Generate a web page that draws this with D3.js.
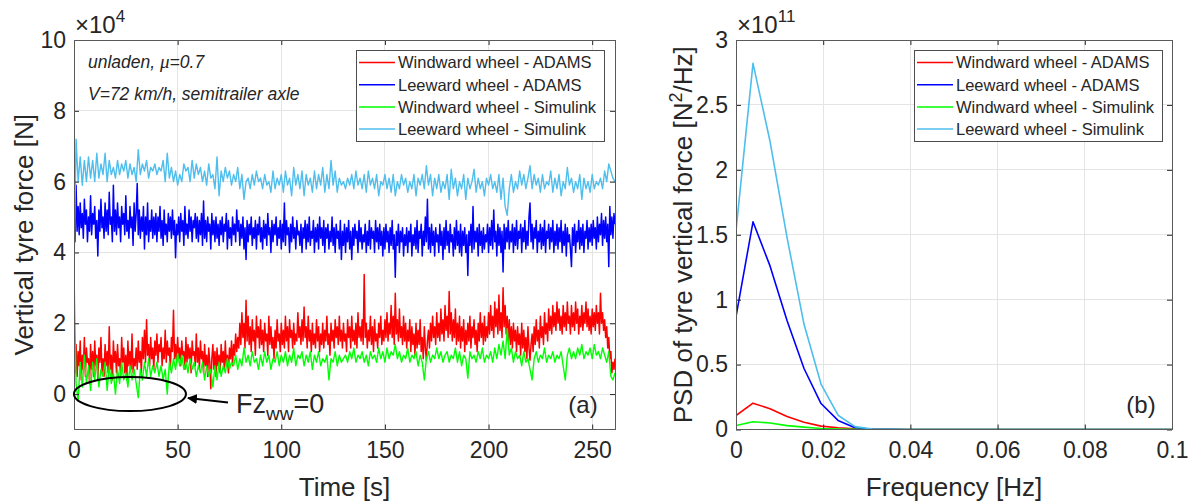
<!DOCTYPE html>
<html><head><meta charset="utf-8">
<script src="https://cdn.jsdelivr.net/npm/d3@7"></script>
<style>
body{margin:0;background:#fff}
text{font-family:"Liberation Sans",Arial,Helvetica,sans-serif;fill:#262626}
</style>
</head><body>
<svg id="c" width="1196" height="502" xmlns="http://www.w3.org/2000/svg"></svg>
<script>
// ---------------- DATA ----------------
const seriesNames = ["Windward wheel - ADAMS","Leeward wheel - ADAMS","Windward wheel - Simulink","Leeward wheel - Simulink"];
const seriesColors = ["#ff0000","#0000ff","#00ff00","#4dbeee"];

// time-series sampling (s)
const fastStep = 0.5;   // ADAMS traces
const slowStep = 1;     // Simulink traces

// Vertical tyre force, x10^4 N
const windwardAdams = [
1.9,0.6,1.4,0.5,1.2,0.8,1.5,0.4,1.1,0.7,1.6,0.5,1.3,0.9,1.0,0.3,1.4,0.7,1.2,0.5,
1.5,0.8,1.1,0.4,1.3,0.9,1.6,0.6,1.0,0.5,1.4,0.8,1.2,0.6,1.9,0.7,1.1,0.4,1.5,0.9,
1.2,0.6,1.4,0.8,1.0,0.5,1.6,0.9,1.3,0.6,1.1,0.4,1.5,0.8,1.2,0.7,1.7,0.6,1.0,0.8,
1.3,0.7,1.5,0.9,1.2,0.6,1.6,1.0,1.8,0.9,2.1,1.1,1.4,0.8,1.6,1.0,1.3,0.7,1.5,1.1,
1.7,0.9,1.4,1.2,1.6,0.8,1.3,1.0,1.8,0.9,1.5,1.1,1.3,0.7,1.6,1.2,2.37,1.0,1.4,0.9,
1.6,1.0,1.3,0.8,1.5,1.1,1.2,0.7,1.6,0.9,1.4,1.0,1.3,0.6,1.5,1.1,1.2,0.8,1.7,0.9,
1.3,0.7,1.5,1.0,1.2,0.6,1.4,0.8,1.1,0.5,1.3,0.9,0.15,1.0,1.4,0.7,1.2,0.5,1.3,0.8,
1.1,0.6,1.4,0.9,1.2,0.7,1.5,0.8,1.1,0.6,1.3,1.0,1.5,0.8,1.4,1.1,1.7,1.2,1.6,1.3,
2.0,1.4,2.3,1.6,2.0,1.3,2.65,1.5,2.2,1.4,1.9,1.2,2.1,1.5,1.8,1.1,2.2,1.6,1.9,1.3,
2.1,1.4,1.8,1.2,2.0,1.5,1.7,1.1,2.2,1.4,1.9,1.3,1.6,1.0,1.8,1.3,2.1,1.5,1.7,1.2,
2.0,1.4,1.8,1.3,2.2,1.5,1.9,1.2,2.1,1.6,1.8,1.3,2.0,1.4,1.7,1.5,2.3,1.6,1.9,1.4,
2.1,1.5,2.46,1.6,1.9,1.3,2.2,1.5,1.8,1.2,2.0,1.4,1.7,1.3,2.1,1.5,1.9,1.2,1.7,1.4,
2.0,1.3,1.8,1.5,2.2,1.4,1.7,1.1,2.0,1.5,1.8,1.3,2.1,1.6,1.9,1.4,2.2,1.5,1.8,1.3,
2.0,1.5,1.7,1.2,2.1,1.6,1.9,1.3,2.2,1.5,1.8,1.4,2.0,1.3,2.3,1.6,1.9,1.5,2.1,1.4,
3.38,1.6,2.0,1.3,1.8,1.5,2.2,1.4,1.9,1.2,2.1,1.5,1.7,1.3,2.0,1.6,2.2,1.4,1.8,1.5,
2.1,1.6,2.3,1.5,2.0,1.7,2.5,1.6,2.2,1.4,2.85,1.7,2.1,1.5,2.4,1.6,1.9,1.4,2.2,1.5,
2.0,1.3,1.8,1.5,2.1,1.2,1.9,1.4,1.7,1.1,2.0,1.3,1.8,1.4,2.1,1.2,1.6,1.0,1.9,1.3,
0.96,1.5,1.8,1.3,2.0,1.5,2.2,1.6,1.9,1.4,2.3,1.6,2.0,1.5,2.4,1.7,2.1,1.5,2.5,1.8,
2.2,1.6,2.9,1.7,2.3,1.5,2.1,1.6,2.4,1.4,2.0,1.5,2.2,1.3,1.9,1.5,2.1,1.2,1.8,1.4,
2.0,1.5,2.2,1.3,1.9,1.6,2.1,1.4,1.8,1.2,2.0,1.5,2.3,1.6,2.0,1.4,2.2,1.5,1.9,1.6,
2.3,1.7,2.5,1.8,2.2,1.6,2.6,1.9,2.4,1.7,2.8,1.8,2.3,1.6,3.0,1.9,2.5,1.7,2.2,1.5,
2.1,1.4,1.9,1.3,2.0,1.5,1.8,1.2,1.9,1.4,1.7,1.1,2.0,1.3,1.8,1.2,1.6,1.0,1.9,1.3,
0.96,1.4,1.7,1.2,1.9,1.4,2.1,1.5,1.8,1.3,2.2,1.6,1.9,1.4,2.3,1.7,2.0,1.5,2.4,1.8,
2.2,1.7,2.5,1.9,2.3,1.8,2.6,2.0,2.4,1.8,2.2,1.7,2.5,1.9,2.3,1.8,2.6,2.0,2.2,1.7,
2.5,1.9,2.3,1.8,2.6,2.0,2.4,1.7,2.2,1.9,2.5,1.8,2.3,2.0,2.6,1.9,2.4,1.8,2.2,1.7,
2.4,1.9,2.3,1.8,2.5,2.0,2.3,1.7,2.85,2.0,2.3,1.8,2.1,1.6,1.9,1.3,1.6,1.0,1.2,0.6,
0.9,0.7,1.0];

const leewardAdams = [
6.0,4.3,5.9,4.6,5.3,4.5,5.4,4.7,5.1,4.4,5.5,4.8,5.2,4.3,5.0,4.6,5.6,4.5,5.1,4.8,
5.3,4.4,4.9,3.9,5.2,4.6,5.5,4.7,5.0,4.4,5.4,4.6,5.2,4.5,5.7,4.8,5.0,4.3,5.9,4.6,
5.2,4.5,5.4,4.7,5.0,4.3,5.3,4.8,5.1,4.5,5.6,4.6,4.9,4.4,5.3,4.7,5.0,4.2,5.4,4.6,
5.1,5.95,4.5,5.2,4.4,5.0,4.6,5.3,4.1,5.0,4.5,5.4,4.3,4.9,4.6,5.2,4.4,5.0,4.5,5.1,
4.3,5.0,4.6,5.3,4.4,4.9,4.2,5.2,4.5,4.8,4.3,5.1,4.6,5.0,4.4,5.2,4.5,4.9,3.85,4.8,
4.5,5.0,4.3,5.1,4.6,4.9,4.2,5.3,4.5,4.8,4.4,5.2,4.6,5.0,4.3,4.9,4.7,5.1,4.4,5.0,
4.3,4.9,4.5,5.1,4.2,5.45,4.4,4.9,4.3,5.0,4.6,4.8,4.1,5.1,4.5,4.9,4.3,5.0,4.4,4.8,
4.2,4.9,4.5,5.0,4.3,4.8,4.6,5.1,4.1,4.9,4.4,4.7,4.2,5.0,4.5,4.8,4.3,5.2,4.6,4.9,
4.2,4.8,4.4,5.0,4.1,4.7,3.8,4.9,4.3,4.8,4.5,5.0,4.2,4.7,4.4,4.9,4.1,4.8,4.5,5.0,
4.3,4.7,4.1,4.9,4.4,4.8,4.2,5.1,4.5,4.7,4.0,4.9,4.3,4.8,4.5,5.0,4.2,4.7,4.4,4.9,
4.1,4.8,4.3,5.4,4.2,4.9,4.5,4.7,4.0,4.8,4.3,5.0,4.4,4.7,4.1,4.9,4.5,4.6,4.2,4.8,
4.0,4.7,4.4,4.9,4.1,4.8,4.3,5.0,4.2,4.6,4.4,4.9,4.0,4.7,4.3,4.8,4.1,5.0,4.4,4.7,
4.2,4.9,4.0,4.7,4.4,4.8,4.1,4.6,4.3,5.0,4.2,4.7,4.0,4.8,4.4,4.6,4.1,4.9,3.8,4.6,
4.2,4.8,4.0,4.7,4.3,4.9,4.1,4.6,3.8,4.7,4.2,4.8,4.4,4.6,4.0,4.9,4.3,4.7,4.1,4.5,
4.3,4.8,4.0,4.6,4.2,4.9,4.1,4.7,4.4,4.6,4.0,4.9,4.3,4.7,4.1,4.8,4.2,4.6,3.9,4.7,
4.1,4.8,4.3,4.6,4.0,4.7,4.2,4.9,4.1,4.5,3.3,4.6,4.2,4.8,4.0,4.6,4.3,4.7,3.9,4.5,
4.2,4.7,4.0,4.6,4.3,4.8,3.9,4.5,4.2,4.7,4.1,4.9,4.0,4.6,4.4,4.8,3.9,4.6,4.2,5.0,
4.3,5.5,4.1,4.7,4.0,4.8,4.2,4.6,3.9,4.7,4.3,4.5,4.0,4.8,4.2,4.6,3.8,4.7,4.1,4.9,
4.2,4.6,4.0,4.8,4.3,4.5,3.9,4.7,4.1,4.9,4.2,4.6,4.0,4.8,3.9,4.6,4.2,4.7,4.0,4.5,
3.35,4.6,4.2,4.8,4.0,5.3,4.1,4.6,4.3,4.7,3.9,4.8,4.2,4.6,4.0,4.7,4.1,4.5,4.3,4.8,
4.0,4.7,4.2,4.9,4.1,5.2,4.3,4.6,3.9,4.8,4.2,4.7,4.0,4.6,3.45,4.8,4.1,4.7,4.3,4.9,
4.1,4.6,4.3,4.8,4.0,4.7,4.2,4.9,4.1,4.6,4.4,4.8,4.0,4.7,4.3,4.9,4.1,4.6,4.2,5.0,
5.4,4.3,4.8,4.1,4.7,4.4,4.9,4.0,4.6,4.3,4.8,4.1,4.7,4.2,4.9,4.0,4.6,4.4,4.8,4.1,
4.7,4.3,4.9,4.0,4.6,4.2,4.8,4.1,4.7,4.3,4.9,4.0,4.6,4.2,4.8,3.9,4.7,4.3,4.5,4.1,
3.6,4.7,4.2,4.8,4.0,4.6,4.3,4.9,4.1,4.7,4.2,4.8,4.0,4.6,4.4,4.9,4.1,4.7,4.3,4.8,
4.2,4.9,4.4,4.7,4.1,5.0,4.3,4.8,4.5,5.1,4.2,4.9,4.4,5.0,4.3,4.8,3.6,5.3,4.5,5.0,
4.4,5.1,4.8];

const windwardSimulink = [3.4,
0.3,-0.2,0.9,0.2,1.1,0.3,0.8,0.1,0.9,0.4,
1.0,0.2,0.7,0.5,0.9,0.1,0.8,0.3,0.6,0.0,
0.7,0.3,0.9,0.4,0.6,0.2,0.8,0.4,0.7,0.3,
-0.1,0.7,0.4,0.9,0.5,1.0,0.5,0.8,0.6,0.9,
0.5,0.8,0.4,0.7,0.0,0.9,0.6,1.0,0.7,1.15,
0.8,1.1,0.7,0.9,0.6,1.0,0.7,0.9,0.5,0.8,
0.6,0.9,0.4,0.8,0.5,0.7,0.2,0.8,0.4,0.9,
0.5,0.8,0.6,1.0,0.7,0.9,0.8,1.1,0.7,1.0,
0.8,1.3,0.9,1.1,0.8,1.2,0.9,1.0,0.7,1.1,
0.8,1.2,0.9,1.1,0.7,1.0,0.9,1.2,0.8,1.1,
0.9,1.2,0.8,1.1,0.9,1.3,0.8,1.1,1.0,1.2,
0.8,1.1,0.9,1.2,0.7,1.1,0.9,1.2,0.8,1.0,
0.9,1.1,0.4,1.0,0.9,1.2,0.8,1.1,0.9,1.0,
1.1,0.9,1.2,1.0,1.3,0.9,1.1,1.0,1.2,0.9,
1.1,0.8,1.2,1.0,1.1,0.9,1.3,1.0,1.2,0.9,
1.3,1.0,1.2,1.1,1.4,1.0,1.2,0.9,1.1,1.0,
1.3,0.9,1.1,1.0,1.2,0.8,1.1,0.9,0.4,1.0,
1.2,0.9,1.1,1.0,1.3,1.0,1.2,0.9,1.1,1.2,
0.9,1.1,1.0,1.3,0.9,1.2,0.8,1.1,1.0,0.45,
1.2,1.0,1.1,0.9,1.2,1.0,1.3,0.9,1.1,1.0,
1.2,0.9,1.3,1.0,1.4,1.1,1.5,1.0,1.85,1.1,
1.3,0.9,1.2,1.0,1.1,0.8,1.2,0.9,1.0,0.7,
0.4,1.0,1.2,0.9,1.1,1.0,1.3,0.9,1.1,1.0,
1.2,0.9,1.1,1.0,1.2,0.8,0.4,1.1,1.3,1.0,
1.2,1.0,1.3,1.1,1.4,1.0,1.2,1.1,1.3,1.0,
1.4,1.1,1.2,1.0,1.3,1.1,0.9,1.2,0.5,0.4,0.6];

const leewardSimulink = [3.4,
7.2,6.0,6.7,5.9,6.6,6.0,6.7,6.1,6.6,6.0,
6.8,6.1,6.5,6.2,6.8,6.0,6.6,6.2,6.4,6.1,
6.6,6.2,6.5,6.3,6.6,6.1,6.5,6.2,6.4,6.0,
6.9,6.2,6.5,6.3,6.6,6.1,6.4,6.3,6.5,6.2,
6.4,6.3,6.6,6.0,6.8,6.1,6.4,6.0,6.3,5.9,
6.2,6.0,6.5,6.3,6.4,6.0,6.6,6.1,6.5,6.2,
6.4,6.0,6.3,5.9,6.5,6.1,6.2,5.8,6.7,5.6,
6.3,6.0,6.4,6.1,6.3,5.9,6.2,6.0,6.4,5.8,
6.2,5.5,6.0,6.1,5.8,6.2,5.9,6.3,6.0,6.1,
5.8,6.2,5.9,6.0,5.7,6.3,5.8,6.1,5.9,6.2,
5.7,6.3,5.9,6.1,5.6,6.4,5.9,6.2,5.8,6.3,
5.6,6.2,5.9,6.1,5.7,6.3,5.8,6.2,5.9,6.4,
5.7,6.2,5.8,6.6,5.9,6.3,5.7,6.1,5.9,6.0,
5.8,6.1,5.9,6.2,5.8,6.3,5.9,6.1,5.8,6.2,
5.7,6.3,5.9,6.1,5.8,6.2,5.6,6.0,5.9,6.2,
5.8,6.1,5.7,6.2,5.6,6.0,5.8,6.2,5.9,6.1,
5.7,6.0,5.8,6.2,5.6,6.1,5.9,6.2,5.8,6.45,
5.9,6.2,5.6,6.1,5.8,6.2,5.7,6.0,5.8,6.2,
5.5,6.35,5.8,6.1,5.6,6.0,5.8,6.2,5.5,6.1,
5.8,6.0,6.35,5.7,6.1,5.8,6.0,5.6,6.1,5.9,
6.2,5.8,6.0,5.7,6.2,5.5,6.1,5.3,5.05,5.8,
6.2,5.7,6.0,5.8,6.3,5.9,6.2,5.8,6.1,6.45,
5.8,6.2,5.9,6.1,5.7,6.2,5.8,6.0,5.9,6.3,
5.7,6.1,5.8,6.2,5.6,6.0,5.8,6.4,5.9,6.1,
5.7,6.0,5.8,6.2,5.5,6.1,5.8,6.0,5.7,6.2,
5.8,6.0,5.9,6.1,5.8,6.3,6.0,6.5,6.3,6.1,6.0];

// PSD, x10^11 N^2/Hz
const psdFreq = [0,0.0039,0.0078,0.0117,0.0156,0.0195,0.0234,0.0273,0.0313,0.0352,0.0391,0.0430,0.0469,0.0508,0.0547,0.0586,0.0625,0.0664,0.0703,0.0742,0.0781,0.0820,0.0859,0.0898,0.0938,0.0977,0.1016];
const psdWindwardAdams   = [0.108,0.203,0.160,0.100,0.056,0.026,0.013,0.005,0.002,0.001,0,0,0,0,0,0,0,0,0,0,0,0,0,0,0,0,0];
const psdLeewardAdams    = [0.87,1.60,1.26,0.84,0.47,0.20,0.07,0.013,0.002,0.001,0,0,0,0,0,0,0,0,0,0,0,0,0,0,0,0,0];
const psdWindwardSimulink= [0.031,0.060,0.050,0.030,0.018,0.008,0.004,0.001,0,0,0,0,0,0,0,0,0,0,0,0,0,0,0,0,0,0,0];
const psdLeewardSimulink = [1.53,2.82,2.22,1.48,0.81,0.35,0.11,0.022,0.004,0.001,0,0,0,0,0,0,0,0,0,0,0,0,0,0,0,0,0];

const timeTicks = [0,50,100,150,200,250];
const forceTicks = [0,2,4,6,8,10];
const freqTicks = [0,0.02,0.04,0.06,0.08,0.1];
const freqTickLabels = ["0","0.02","0.04","0.06","0.08","0.1"];
const psdTicks = [0,0.5,1,1.5,2,2.5,3];
const psdTickLabels = ["0","0.5","1","1.5","2","2.5","3"];

// ---------------- DRAW ----------------
const svg = d3.select("#c");
const defs = svg.append("defs");

function makePanel(cfg) {
  const x = d3.scaleLinear().domain(cfg.xDomain).range([cfg.left, cfg.right]);
  const y = d3.scaleLinear().domain(cfg.yDomain).range([cfg.bottom, cfg.top]);
  const g = svg.append("g");
  const gridColor = "#e4e4e4";
  g.append("g").selectAll("line").data(cfg.xTicks.filter(v => v > cfg.xDomain[0] && v < cfg.xDomain[1])).join("line")
    .attr("x1", d => x(d)).attr("x2", d => x(d)).attr("y1", cfg.top).attr("y2", cfg.bottom)
    .attr("stroke", gridColor).attr("stroke-width", 1).attr("shape-rendering","crispEdges");
  g.append("g").selectAll("line").data(cfg.yTicks.filter(v => v > cfg.yDomain[0] && v < cfg.yDomain[1])).join("line")
    .attr("y1", d => y(d)).attr("y2", d => y(d)).attr("x1", cfg.left).attr("x2", cfg.right)
    .attr("stroke", gridColor).attr("stroke-width", 1).attr("shape-rendering","crispEdges");

  defs.append("clipPath").attr("id", cfg.id).append("rect")
    .attr("x", cfg.left).attr("y", cfg.top).attr("width", cfg.right - cfg.left).attr("height", cfg.bottom - cfg.top);
  const plot = g.append("g").attr("clip-path", `url(#${cfg.id})`);

  const tickStyle = sel => {
    sel.select(".domain").remove();
    sel.selectAll(".tick line").attr("stroke", "#262626");
    sel.selectAll(".tick text").style("font-size", "23px").attr("fill", "#262626");
  };
  const ax = d3.axisBottom(x).tickValues(cfg.xTicks).tickSize(-5).tickPadding(12)
    .tickFormat((d, i) => cfg.xLabels[i]);
  g.append("g").attr("transform", `translate(0,${cfg.bottom})`).call(ax).call(tickStyle);
  const ay = d3.axisLeft(y).tickValues(cfg.yTicks).tickSize(-5).tickPadding(8)
    .tickFormat((d, i) => cfg.yLabels[i]);
  g.append("g").attr("transform", `translate(${cfg.left},0)`).call(ay).call(tickStyle);
  g.append("g").attr("transform", `translate(0,${cfg.top})`)
    .call(d3.axisTop(x).tickValues(cfg.xTicks).tickSize(-5).tickFormat("")).call(tickStyle);
  g.append("g").attr("transform", `translate(${cfg.right},0)`)
    .call(d3.axisRight(y).tickValues(cfg.yTicks).tickSize(-5).tickFormat("")).call(tickStyle);

  g.append("rect").attr("x", cfg.left).attr("y", cfg.top)
    .attr("width", cfg.right - cfg.left).attr("height", cfg.bottom - cfg.top)
    .attr("fill", "none").attr("stroke", "#5a5a5a").attr("stroke-width", 1).attr("shape-rendering","crispEdges");

  // exponent label
  const ex = g.append("text").attr("x", cfg.left + 1).attr("y", 33).style("font-size", "24px");
  ex.append("tspan").text("\u00d710");
  ex.append("tspan").attr("dy", -11).style("font-size", "17px").text(cfg.exponent);

  // axis titles
  g.append("text").attr("x", (cfg.left + cfg.right) / 2).attr("y", 496).attr("text-anchor", "middle")
    .style("font-size", "26px").text(cfg.xTitle);
  const yt = g.append("text").attr("transform", `translate(${cfg.yTitleX},${(cfg.top + cfg.bottom) / 2}) rotate(-90)`)
    .attr("text-anchor", "middle").style("font-size", "26px");
  cfg.yTitle(yt);

  // legend
  const lg = g.append("g");
  lg.append("rect").attr("x", cfg.legX).attr("y", 50).attr("width", 248).attr("height", 91)
    .attr("fill", "#fff").attr("stroke", "#4d4d4d").attr("stroke-width", 1).attr("shape-rendering","crispEdges");
  seriesNames.forEach((n, i) => {
    const yy = 62.5 + i * 22.2;
    lg.append("line").attr("x1", cfg.legX + 3).attr("x2", cfg.legX + 39).attr("y1", yy).attr("y2", yy)
      .attr("stroke", seriesColors[i]).attr("stroke-width", 1.5);
    lg.append("text").attr("x", cfg.legX + 42).attr("y", yy).attr("dy", "0.36em")
      .style("font-size", "16.5px").attr("fill", "#000").text(n);
  });
  return {x, y, plot, g};
}

// ---- Panel (a) ----
const A = makePanel({
  id: "clipA", left: 74, right: 615, top: 40, bottom: 429.5,
  xDomain: [0, 261], yDomain: [-1, 10],
  xTicks: timeTicks, xLabels: timeTicks.map(String),
  yTicks: forceTicks, yLabels: forceTicks.map(String),
  exponent: "4", xTitle: "Time [s]", yTitleX: 33,
  yTitle: t => t.text("Vertical tyre force [N]"),
  legX: 356
});
const fastLine = d3.line().x((d, i) => A.x(i * fastStep)).y(d => A.y(d));
const slowLine = d3.line().x((d, i) => A.x(i * slowStep)).y(d => A.y(d));
A.plot.append("path").datum(windwardAdams).attr("d", fastLine).attr("fill","none").attr("stroke", seriesColors[0]).attr("stroke-width", 1.5).attr("stroke-linejoin","round");
A.plot.append("path").datum(leewardAdams).attr("d", fastLine).attr("fill","none").attr("stroke", seriesColors[1]).attr("stroke-width", 1.5).attr("stroke-linejoin","round");
A.plot.append("path").datum(windwardSimulink).attr("d", slowLine).attr("fill","none").attr("stroke", seriesColors[2]).attr("stroke-width", 1.4).attr("stroke-linejoin","round");
A.plot.append("path").datum(leewardSimulink).attr("d", slowLine).attr("fill","none").attr("stroke", seriesColors[3]).attr("stroke-width", 1.4).attr("stroke-linejoin","round");

// annotations (a)
const ann1 = A.g.append("text").attr("x", 88).attr("y", 68).style("font-size", "17.5px").style("font-style", "italic");
ann1.append("tspan").text("unladen,  ");
ann1.append("tspan").style("font-family", "'Liberation Serif','DejaVu Serif',serif").style("font-size","19px").text("\u03bc");
ann1.append("tspan").text("=0.7");
A.g.append("text").attr("x", 88).attr("y", 100).style("font-size", "17.5px").style("font-style", "italic")
  .text("V=72 km/h, semitrailer axle");
A.g.append("ellipse").attr("cx", A.x(27)).attr("cy", A.y(0)).attr("rx", 56).attr("ry", 17)
  .attr("fill", "none").attr("stroke", "#000").attr("stroke-width", 2);
defs.append("marker").attr("id", "arr").attr("viewBox", "0 0 10 10").attr("refX", 9).attr("refY", 5)
  .attr("markerWidth", 5).attr("markerHeight", 5).attr("orient", "auto")
  .append("path").attr("d", "M0,0 L10,5 L0,10 z").attr("fill", "#000");
A.g.append("line").attr("x1", 228).attr("y1", 402.5).attr("x2", 188).attr("y2", 398)
  .attr("stroke", "#000").attr("stroke-width", 2).attr("marker-end", "url(#arr)");
const fz = A.g.append("text").attr("x", 236).attr("y", 413).style("font-size", "27px").attr("fill", "#000");
fz.append("tspan").text("Fz");
fz.append("tspan").attr("dy", 7).style("font-size", "19px").text("ww");
fz.append("tspan").attr("dy", -7).text("=0");
A.g.append("text").attr("x", 583).attr("y", 413).attr("text-anchor", "middle").style("font-size", "24px").attr("fill","#000").text("(a)");

// ---- Panel (b) ----
const B = makePanel({
  id: "clipB", left: 736, right: 1172, top: 40, bottom: 429.5,
  xDomain: [0, 0.1], yDomain: [0, 3],
  xTicks: freqTicks, xLabels: freqTickLabels,
  yTicks: psdTicks, yLabels: psdTickLabels,
  exponent: "11", xTitle: "Frequency [Hz]", yTitleX: 692,
  yTitle: t => { t.append("tspan").text("PSD of tyre vertical force [N");
                 t.append("tspan").attr("dy", -10).style("font-size", "18px").text("2");
                 t.append("tspan").attr("dy", 10).text("/Hz]"); },
  legX: 914
});
const psdLine = vals => d3.line().x((d, i) => B.x(psdFreq[i])).y(d => B.y(d))(vals);
[psdWindwardAdams, psdLeewardAdams, psdWindwardSimulink, psdLeewardSimulink].forEach((vals, k) => {
  B.plot.append("path").attr("d", psdLine(vals)).attr("fill", "none")
    .attr("stroke", seriesColors[k]).attr("stroke-width", 1.6).attr("stroke-linejoin","round");
});
B.g.append("text").attr("x", 1141).attr("y", 413).attr("text-anchor", "middle").style("font-size", "24px").attr("fill","#000").text("(b)");
</script>
</body></html>
